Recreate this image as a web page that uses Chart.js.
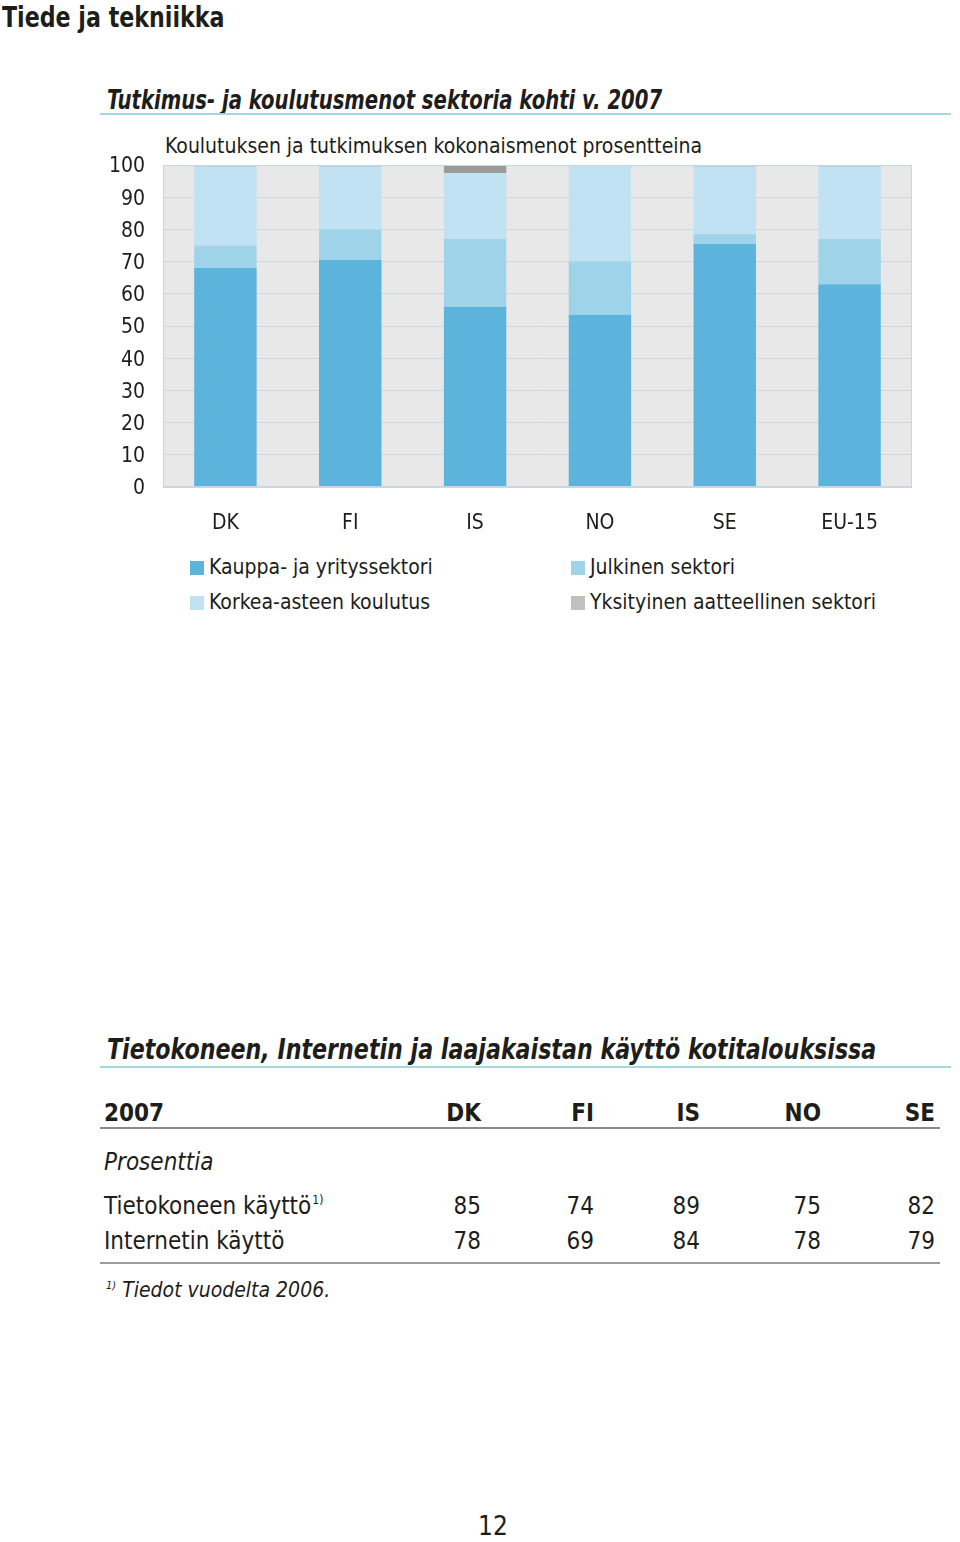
<!DOCTYPE html>
<html>
<head>
<meta charset="utf-8">
<script src="https://cdn.jsdelivr.net/npm/chart.js@4.4.1/dist/chart.umd.min.js"></script>
<style>
  body { margin: 0; width: 960px; height: 1542px; position: relative; background: #fff;
         font-family: "Liberation Sans Narrow", "DejaVu Sans Condensed", sans-serif; color: #1d1d1b; }
  .abs { position: absolute; white-space: nowrap; }
  .sect { font-weight: bold; font-style: italic; line-height: 30px; transform-origin: 0 50%; }
  .rule { position: absolute; height: 2px; background: #a3d8df; }
  .trow { position: absolute; font-size: 24px; line-height: 30px; white-space: nowrap; }
  .num { position: absolute; text-align: right; width: 60px; }
  .leg { position: absolute; font-size: 21px; line-height: 26px; white-space: nowrap; }
  .leg span.box { display: inline-block; width: 14px; height: 14px; margin-right: 5px; vertical-align: -1px; }
  #myChart { position: absolute; left: 0; top: 130px; }
</style>
</head>
<body>
<div class="abs" style="left:2px; top:2px; font-size:28px; font-weight:bold; line-height:32px; transform:scaleX(0.88); transform-origin:0 50%;">Tiede ja tekniikka</div>

<div class="abs sect" style="left:107px; top:85px; font-size:26px; transform:scaleX(0.84);">Tutkimus- ja koulutusmenot sektoria kohti v. 2007</div>
<div class="rule" style="left:100px; top:113px; width:851px;"></div>

<div class="abs" style="left:165px; top:133px; font-size:21px; line-height:26px;">Koulutuksen ja tutkimuksen kokonaismenot prosentteina</div>

<canvas id="myChart" width="960" height="420"></canvas>

<div id="legend"></div>

<div class="abs sect" style="left:107px; top:1035px; font-size:28px; transform:scaleX(0.88);">Tietokoneen, Internetin ja laajakaistan käyttö kotitalouksissa</div>
<div class="rule" style="left:100px; top:1066px; width:851px;"></div>

<div id="table"></div>

<div class="abs" style="left:478px; top:1511px; font-size:26px; line-height:30px;">12</div>

<script>
// chart data
const countries = ['DK', 'FI', 'IS', 'NO', 'SE', 'EU-15'];
const business = [68, 70.5, 56, 53.5, 75.5, 63];
const government = [7, 9.5, 21, 16.5, 3, 14];
const higherEducation = [24.5, 19.5, 20.5, 30, 21, 22.5];
const privateNonProfit = [0.5, 0.5, 2.5, 0, 0.5, 0.5];
const yTicks = [0, 10, 20, 30, 40, 50, 60, 70, 80, 90, 100];

// table data
const tableYear = '2007';
const tableCountries = ['DK', 'FI', 'IS', 'NO', 'SE'];
const computerUse = [85, 74, 89, 75, 82];
const internetUse = [78, 69, 84, 78, 79];

const fontFamily = '"Liberation Sans Narrow", "DejaVu Sans Condensed", sans-serif';

const data = {
    labels: countries,
    datasets: [
        { label: 'Kauppa- ja yrityssektori', data: business, backgroundColor: '#5cb4dc', legendColor: '#5cb4dc' },
        { label: 'Julkinen sektori', data: government, backgroundColor: '#9fd3ea', legendColor: '#9fd3ea' },
        { label: 'Korkea-asteen koulutus', data: higherEducation, backgroundColor: '#c0e2f2', legendColor: '#c0e2f2' },
        { label: 'Yksityinen aatteellinen sektori', data: privateNonProfit, backgroundColor: '#9b9b9b', legendColor: '#c0c0c0' }
    ]
};

// plot background + frame
const plotBackground = {
    id: 'plotBackground',
    beforeDraw(chart) {
        const { ctx, chartArea: a } = chart;
        ctx.save();
        ctx.fillStyle = '#e8e8e9';
        ctx.fillRect(a.left, a.top, a.right - a.left, a.bottom - a.top);
        ctx.restore();
    },
    afterDatasetsDraw(chart) {
        const { ctx, chartArea: a } = chart;
        ctx.save();
        ctx.strokeStyle = '#c3d6e2';
        ctx.lineWidth = 1;
        ctx.strokeRect(a.left + 0.5, a.top + 0.5, a.right - a.left - 1, a.bottom - a.top - 1);
        ctx.restore();
    }
};

const config = {
    type: 'bar',
    data: data,
    options: {
        responsive: false,
        animation: false,
        layout: {
            padding: { top: 35, right: 48, bottom: 0, left: 0 }
        },
        datasets: {
            bar: { categoryPercentage: 1, barPercentage: 0.5 }
        },
        scales: {
            x: {
                stacked: true,
                afterFit(axis) {
                    axis.height = 63;
                },
                grid: { display: false, drawTicks: false },
                border: { display: false },
                ticks: {
                    color: '#1d1d1b',
                    padding: 24,
                    font: { family: fontFamily, size: 21 }
                }
            },
            y: {
                stacked: true,
                min: 0,
                max: 100,
                afterBuildTicks(axis) {
                    axis.ticks = yTicks.map(v => ({ value: v }));
                },
                afterFit(axis) {
                    axis.width = 163;
                },
                grid: { color: '#c9d8e2', lineWidth: 1, drawTicks: false },
                border: { display: false },
                ticks: {
                    autoSkip: false,
                    labelOffset: 2,
                    color: '#1d1d1b',
                    padding: 18,
                    font: { family: fontFamily, size: 21 }
                }
            }
        },
        plugins: {
            legend: { display: false },
            tooltip: { enabled: false }
        }
    },
    plugins: [plotBackground]
};

const context = document.getElementById('myChart').getContext('2d');
const myChart = new Chart(context, config);

// legend in two columns, built from the datasets
const legendPos = [[190, 554], [571, 554], [190, 589], [571, 589]];
const legendEl = document.getElementById('legend');
myChart.data.datasets.forEach((ds, i) => {
    const div = document.createElement('div');
    div.className = 'leg';
    div.style.left = legendPos[i][0] + 'px';
    div.style.top = legendPos[i][1] + 'px';
    div.innerHTML = '<span class="box" style="background:' + ds.legendColor + '"></span>' + ds.label;
    legendEl.appendChild(div);
});

// table
const colRight = [481, 594, 700, 821, 935];
const tableEl = document.getElementById('table');
function addRow(top, label, values, style) {
    const row = document.createElement('div');
    row.className = 'trow';
    row.style.left = '0px';
    row.style.top = top + 'px';
    row.style.width = '960px';
    let html = '<span class="abs" style="left:104px;' + (style || '') + '">' + label + '</span>';
    if (values) {
        values.forEach((v, i) => {
            html += '<span class="num" style="left:' + (colRight[i] - 60) + 'px;' + (style || '') + '">' + v + '</span>';
        });
    }
    row.innerHTML = html;
    tableEl.appendChild(row);
}
addRow(1098, tableYear, tableCountries, 'font-weight:bold;');
addRow(1147, '<i>Prosenttia</i>', null);
addRow(1191, 'Tietokoneen käyttö<span style="font-size:12px; position:relative; top:-10px; margin-left:1px;">1)</span>', computerUse);
addRow(1226, 'Internetin käyttö', internetUse);

const lines = [[1127, '#8a8a8a'], [1262, '#9a9a9a']];
lines.forEach(l => {
    const d = document.createElement('div');
    d.style.cssText = 'position:absolute; left:100px; width:840px; height:1.5px; top:' + l[0] + 'px; background:' + l[1] + ';';
    tableEl.appendChild(d);
});

const foot = document.createElement('div');
foot.className = 'abs';
foot.style.cssText = 'left:106px; top:1277px; font-size:21px; line-height:26px; font-style:italic;';
foot.innerHTML = '<span style="font-size:11px; position:relative; top:-8px;">1)</span> Tiedot vuodelta 2006.';
tableEl.appendChild(foot);
</script>
</body>
</html>
